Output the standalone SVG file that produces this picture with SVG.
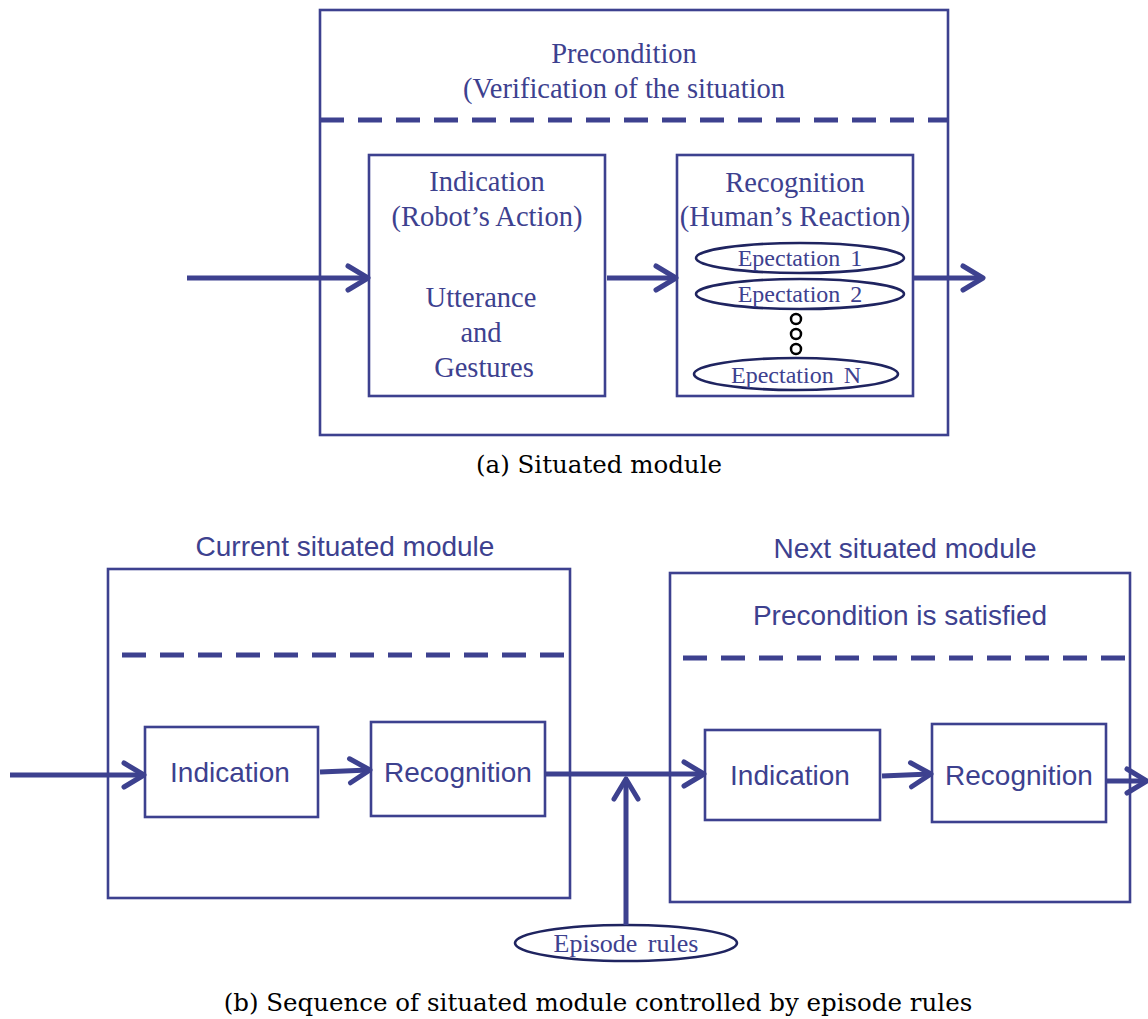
<svg xmlns="http://www.w3.org/2000/svg" width="1148" height="1019" viewBox="0 0 1148 1019">
<defs>
<marker id="ah" viewBox="-24 -16 28 32" refX="-1" refY="0" markerWidth="28" markerHeight="32" markerUnits="userSpaceOnUse" orient="auto">
<path d="M-20,-12 L0,0 L-20,12" fill="none" stroke="#3d418f" stroke-width="5" stroke-linecap="round" stroke-linejoin="round"/>
</marker>
</defs>
<style>
.box{fill:none;stroke:#3d418f;stroke-width:2.6}
.dash{fill:none;stroke:#3d418f;stroke-width:5;stroke-dasharray:24,14}
.arr{fill:none;stroke:#3d418f;stroke-width:5;marker-end:url(#ah)}
.ser{font-family:"Liberation Serif",serif;font-size:28.5px;fill:#3d418f;text-anchor:middle}
.sm{font-family:"Liberation Serif",serif;font-size:24px;fill:#3d418f;text-anchor:middle;word-spacing:4px}
.sans{font-family:"Liberation Sans",sans-serif;font-size:28px;fill:#3d418f;text-anchor:middle}
.cap{font-family:"DejaVu Serif","Liberation Serif",serif;font-size:24.5px;fill:#000;text-anchor:middle}
.ell{fill:#fff;stroke:#1f2460;stroke-width:2.6}
.dot{fill:none;stroke:#000;stroke-width:2.5}
</style>
<g id="situated-module">
<rect class="box" x="320" y="10" width="628" height="425"/>
<line class="dash" x1="320" y1="120" x2="948" y2="120"/>
<text class="ser" x="624" y="63">Precondition</text>
<text class="ser" x="624" y="98">(Verification of the situation</text>
</g>
<g id="indication-a">
<rect class="box" x="369" y="155" width="236" height="241"/>
<text class="ser" x="487" y="191">Indication</text>
<text class="ser" x="487" y="226">(Robot’s Action)</text>
<text class="ser" x="481" y="307">Utterance</text>
<text class="ser" x="481" y="342">and</text>
<text class="ser" x="484" y="377">Gestures</text>
</g>
<g id="recognition-a">
<rect class="box" x="677" y="155" width="236" height="241"/>
<text class="ser" x="795" y="192">Recognition</text>
<text class="ser" x="795" y="226">(Human’s Reaction)</text>
</g>
<g id="expectation-1">
<ellipse class="ell" cx="800" cy="258" rx="104" ry="15"/>
<text class="sm" x="800" y="266">Epectation 1</text>
</g>
<g id="expectation-2">
<ellipse class="ell" cx="800" cy="294" rx="104" ry="15"/>
<text class="sm" x="800" y="302">Epectation 2</text>
</g>
<g id="dots">
<circle class="dot" cx="796" cy="319" r="5"/>
<circle class="dot" cx="796" cy="334" r="5"/>
<circle class="dot" cx="796" cy="349" r="5"/>
</g>
<g id="expectation-n">
<ellipse class="ell" cx="796" cy="374" rx="102" ry="16"/>
<text class="sm" x="796" y="383">Epectation N</text>
</g>
<text class="cap" x="599" y="473">(a) Situated module</text>

<g id="current-module">
<rect class="box" x="108" y="569" width="462" height="329"/>
<line class="dash" x1="122" y1="655" x2="570" y2="655"/>
<text class="sans" x="345" y="556">Current situated module</text>
</g>
<g id="indication-b1">
<rect class="box" x="145" y="727" width="173" height="90"/>
<text class="sans" x="230" y="782">Indication</text>
</g>
<g id="recognition-b1">
<rect class="box" x="371" y="722" width="174" height="94"/>
<text class="sans" x="458" y="782">Recognition</text>
</g>
<g id="next-module">
<rect class="box" x="670" y="573" width="460" height="329"/>
<line class="dash" x1="683" y1="658" x2="1130" y2="658"/>
<text class="sans" x="905" y="558">Next situated module</text>
<text class="sans" x="900" y="625">Precondition is satisfied</text>
</g>
<g id="indication-b2">
<rect class="box" x="705" y="730" width="175" height="90"/>
<text class="sans" x="790" y="785">Indication</text>
</g>
<g id="recognition-b2">
<rect class="box" x="932" y="724" width="174" height="98"/>
<text class="sans" x="1019" y="785">Recognition</text>
</g>
<g id="episode-rules">
<ellipse class="ell" cx="626" cy="943" rx="111" ry="18"/>
<text class="sm" x="626" y="952" style="font-size:26px">Episode rules</text>
</g>
<text class="cap" x="598" y="1011">(b) Sequence of situated module controlled by episode rules</text>

<g id="connectors">
<line class="arr" x1="187" y1="278" x2="367" y2="278"/>
<line class="arr" x1="607" y1="278" x2="675" y2="278"/>
<line class="arr" x1="913" y1="278" x2="982" y2="278"/>
<line class="arr" x1="10" y1="775" x2="143" y2="775"/>
<line class="arr" x1="320" y1="772" x2="369" y2="770"/>
<line class="arr" x1="545" y1="774" x2="703" y2="774"/>
<line class="arr" x1="626" y1="925" x2="626" y2="780"/>
<line class="arr" x1="882" y1="776" x2="930" y2="774"/>
<line class="arr" x1="1106" y1="781" x2="1146" y2="781"/>
</g>
</svg>
